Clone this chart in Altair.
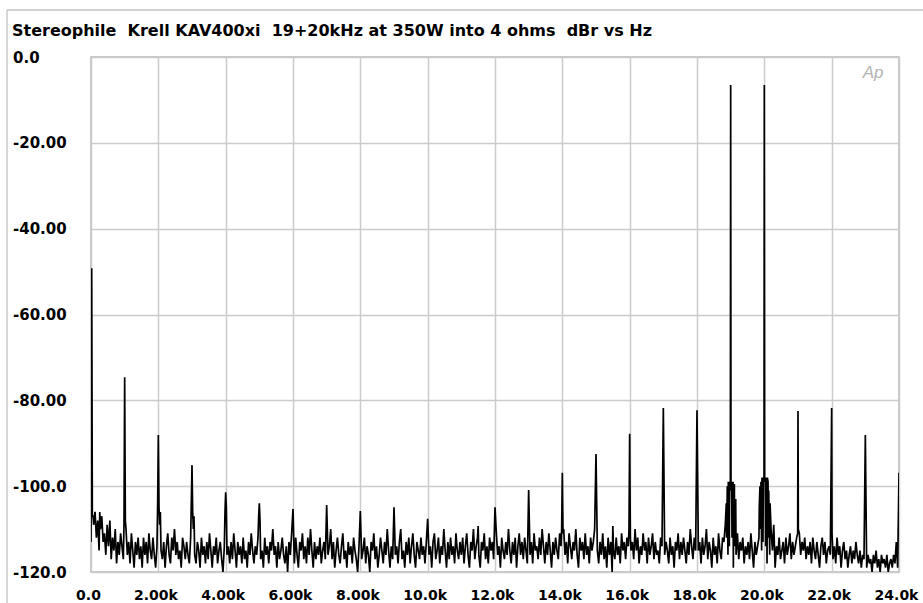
import altair as alt
import pandas as pd

# Noise floor of the FFT trace, one value per 40 Hz bin from 0 Hz to 24 kHz (dBr);
# each row covers 1 kHz
BIN_HZ = 40
noise_db = [
    -113, -107, -109, -106, -112, -108, -115, -110, -107, -113, -111, -116, -109, -114, -108, -117, -112, -115, -110, -118, -113, -116, -111, -114, -117,
    -112, -110, -116, -113, -118, -111, -115, -119, -113, -116, -112, -117, -114, -119, -112, -116, -113, -118, -111, -115, -117, -112, -116, -119, -114,
    -113, -109, -115, -117, -113, -119, -114, -111, -116, -118, -112, -115, -110, -116, -113, -117, -115, -119, -112, -114, -117, -113, -116, -118, -112,
    -114, -110, -116, -118, -113, -115, -119, -112, -116, -114, -118, -113, -117, -111, -115, -119, -114, -116, -112, -118, -115, -113, -117, -120, -114,
    -112, -116, -114, -118, -113, -117, -111, -115, -119, -113, -116, -114, -118, -112, -117, -115, -119, -113, -116, -111, -115, -118, -114, -116, -112,
    -113, -117, -115, -119, -112, -116, -114, -118, -113, -115, -110, -116, -114, -119, -113, -117, -115, -112, -116, -118, -114, -120, -113, -116, -111,
    -114, -118, -112, -116, -119, -113, -115, -111, -117, -114, -118, -112, -116, -110, -115, -119, -113, -117, -114, -116, -112, -118, -115, -113, -117,
    -112, -116, -114, -110, -117, -113, -119, -115, -112, -116, -118, -114, -111, -117, -115, -119, -113, -116, -114, -118, -112, -115, -117, -120, -114,
    -113, -117, -115, -112, -118, -114, -116, -120, -113, -115, -111, -117, -114, -119, -116, -112, -115, -118, -113, -116, -110, -115, -119, -114, -117,
    -112, -116, -114, -118, -113, -110, -117, -115, -119, -113, -116, -112, -118, -114, -111, -116, -119, -113, -115, -117, -112, -116, -114, -118, -113,
    -112, -116, -114, -119, -113, -111, -117, -115, -112, -118, -114, -116, -110, -115, -119, -113, -117, -112, -116, -114, -118, -111, -115, -117, -113,
    -116, -112, -118, -114, -111, -116, -119, -113, -115, -110, -117, -114, -112, -116, -119, -113, -115, -111, -117, -114, -118, -112, -115, -113, -117,
    -113, -111, -116, -114, -119, -112, -115, -117, -113, -116, -110, -115, -118, -113, -116, -112, -119, -114, -111, -116, -113, -117, -112, -115, -118,
    -112, -116, -113, -118, -111, -115, -114, -117, -112, -116, -110, -114, -118, -113, -116, -111, -115, -119, -113, -116, -112, -115, -117, -111, -114,
    -112, -110, -116, -113, -118, -111, -114, -117, -113, -115, -110, -116, -119, -112, -115, -113, -117, -111, -116, -114, -118, -112, -115, -113, -110,
    -112, -115, -118, -113, -116, -111, -117, -114, -119, -112, -116, -113, -120, -115, -117, -112, -116, -114, -118, -111, -115, -113, -117, -112, -114,
    -111, -115, -113, -117, -110, -115, -112, -118, -114, -116, -111, -115, -113, -118, -112, -116, -114, -111, -117, -113, -116, -115, -118, -112, -114,
    -111, -116, -113, -115, -118, -112, -116, -114, -119, -113, -115, -111, -117, -113, -116, -112, -115, -118, -113, -116, -110, -114, -117, -112, -115,
    -111, -115, -113, -118, -112, -116, -114, -110, -117, -113, -115, -119, -112, -116, -114, -118, -111, -115, -117, -112, -113, -109, -112, -116, -114,
    -113, -112, -119, -114, -116, -111, -117, -113, -115, -112, -118, -114, -116, -113, -117, -111, -115, -119, -113, -116, -114, -112, -110, -115, -113,
    -112, -114, -118, -112, -116, -110, -115, -109, -119, -114, -116, -112, -117, -115, -113, -118, -112, -116, -114, -111, -117, -113, -116, -114, -112,
    -113, -111, -116, -113, -115, -112, -117, -114, -116, -113, -118, -112, -115, -117, -113, -116, -119, -114, -112, -116, -113, -118, -115, -114, -116,
    -113, -117, -114, -118, -112, -116, -114, -119, -115, -113, -117, -115, -119, -116, -114, -118, -115, -117, -113, -116, -118, -115, -119, -116, -117,
    -115, -119, -116, -118, -117, -120, -116, -118, -115, -119, -117, -120, -116, -118, -117, -119, -116, -120, -118, -117, -119, -116, -118, -113, -119,
    -117,
]

# Tones and intermodulation products: frequency (Hz) and peak level (dBr)
tone_hz = [20, 1000, 2000, 3000, 4000, 5000, 6000, 7000, 8000, 9000, 10000, 11500,
           12000, 13000, 14000, 15000, 15500, 16000, 17000, 18000, 19000, 20000,
           21000, 22000, 23000, 24000]
tone_db = [-49.2, -74.6, -88.1, -95.1, -101.4, -104.0, -105.3, -104.4, -105.8, -104.9, -107.6, -109.3,
           -104.9, -100.9, -96.9, -92.5, -109.3, -87.8, -81.8, -82.3, -6.5, -6.5,
           -82.5, -81.8, -88.1, -96.9]

# Spectral skirts at the base of the tones (Hz, dBr)
skirt_hz = [60, 260, 980, 1020, 1980, 2020, 2060, 2980, 3020, 3060, 3980, 4020, 4980, 5020,
            13980, 14020, 15980, 16020,
            18870, 18900, 18930, 18950, 18970, 18990, 19010, 19030, 19050, 19070, 19090, 19110, 19150,
            19850, 19870, 19900, 19930, 19950, 19970, 19990, 20010, 20030, 20050, 20070, 20090, 20110,
            20130, 20170,
            20990, 21010, 22010]
skirt_db = [-107, -106, -109, -108, -104, -105, -106, -103.5, -106, -107, -106, -105, -107, -108,
            -110, -111, -110, -112,
            -104, -100, -99, -100, -99, -101, -100, -99, -100, -99, -100, -99.5, -103,
            -105, -100, -99, -98, -100, -98, -99, -98, -99, -98, -100, -98, -99,
            -101, -104,
            -111, -110, -111]

# Axis ticks and their printed labels
x_tick_values = [0, 2000, 4000, 6000, 8000, 10000, 12000, 14000, 16000, 18000, 20000, 22000, 24000]
x_tick_labels = ["0.0", "2.00k", "4.00k", "6.00k", "8.00k", "10.0k", "12.0k", "14.0k",
                 "16.0k", "18.0k", "20.0k", "22.0k", "24.0k"]
y_tick_values = [0, -20, -40, -60, -80, -100, -120]
y_tick_labels = ["0.0", "-20.00", "-40.00", "-60.00", "-80.00", "-100.0", "-120.0"]

NBSP2 = " \u00a0"
TITLE = NBSP2.join(["Stereophile", "Krell KAV400xi", "19+20kHz at 350W into 4 ohms", "dBr vs Hz"])
FONT = "DejaVu Sans"

# Build the trace: noise bins (minus those sitting on a tone) + tones + skirts
rows = []
for i, v in enumerate(noise_db):
    f = i * BIN_HZ
    if all(abs(f - t) >= 20 for t in tone_hz):
        rows.append((f, v))
rows += list(zip(tone_hz, tone_db))
rows += list(zip(skirt_hz, skirt_db))
trace = pd.DataFrame(sorted(rows), columns=["hz", "db"])


def label_expr(values, labels):
    expr = "''"
    for v, l in reversed(list(zip(values, labels))):
        expr = f"datum.value == {v} ? '{l}' : ({expr})"
    return expr


x_scale = alt.Scale(domain=[0, 24000], nice=False, zero=False)
y_scale = alt.Scale(domain=[-120, 0], nice=False, zero=False)

line = alt.Chart(trace).mark_line(color="#000000", strokeWidth=1.7, clip=True).encode(
    x=alt.X("hz:Q", scale=x_scale, title=None,
            axis=alt.Axis(values=x_tick_values, labelExpr=label_expr(x_tick_values, x_tick_labels),
                          labelFlush=False, labelOverlap=False, labelBaseline="middle",
                          labelPadding=23, labelAlign="center", labelFontSize=14, labelOffset=-3)),
    y=alt.Y("db:Q", scale=y_scale, title=None,
            axis=alt.Axis(values=y_tick_values, labelExpr=label_expr(y_tick_values, y_tick_labels),
                          labelAlign="left", labelBaseline="middle", labelPadding=78.5,
                          labelOverlap=False, labelFlush=False)),
    order="hz:Q",
)

logo = alt.Chart(pd.DataFrame({"hz": [23230], "db": [-3.7], "t": ["Ap"]})).mark_text(
    font="Liberation Sans", fontSize=17, fontStyle="italic", color="#b4b4b4", align="center",
    baseline="middle",
).encode(x=alt.X("hz:Q", scale=x_scale), y=alt.Y("db:Q", scale=y_scale), text="t:N")

# Thin outer frame along the top and left of the figure
frame_df = pd.DataFrame({"k": [0]})
frame_top = alt.Chart(frame_df).mark_rule(color="#c2c2c2", strokeWidth=1.3).encode(
    x=alt.value(-84), x2=alt.value(832), y=alt.value(-47))
frame_left = alt.Chart(frame_df).mark_rule(color="#c2c2c2", strokeWidth=1.3).encode(
    x=alt.value(-84), y=alt.value(-47), y2=alt.value(546))

chart = alt.layer(frame_top, frame_left, line, logo).properties(
    width=808,
    height=515,
    padding={"left": 91, "top": 57, "right": 24, "bottom": 31},
    autosize=alt.AutoSizeParams(type="none"),
    background="white",
    title=alt.TitleParams(TITLE, anchor="start", frame="group", dx=-79, font=FONT, fontSize=16,
                          fontWeight="bold", color="black", baseline="alphabetic", offset=-43),
).configure_view(
    stroke="#b8b8b8", strokeWidth=1.5
).configure_axis(
    grid=True, gridColor="#cccccc", gridWidth=1.5, domain=False, ticks=False, tickSize=0,
    labelFont=FONT, labelFontWeight="bold", labelFontSize=15, labelColor="black",
)

chart.save("out.html", embed_options={"renderer": "svg", "actions": False})
